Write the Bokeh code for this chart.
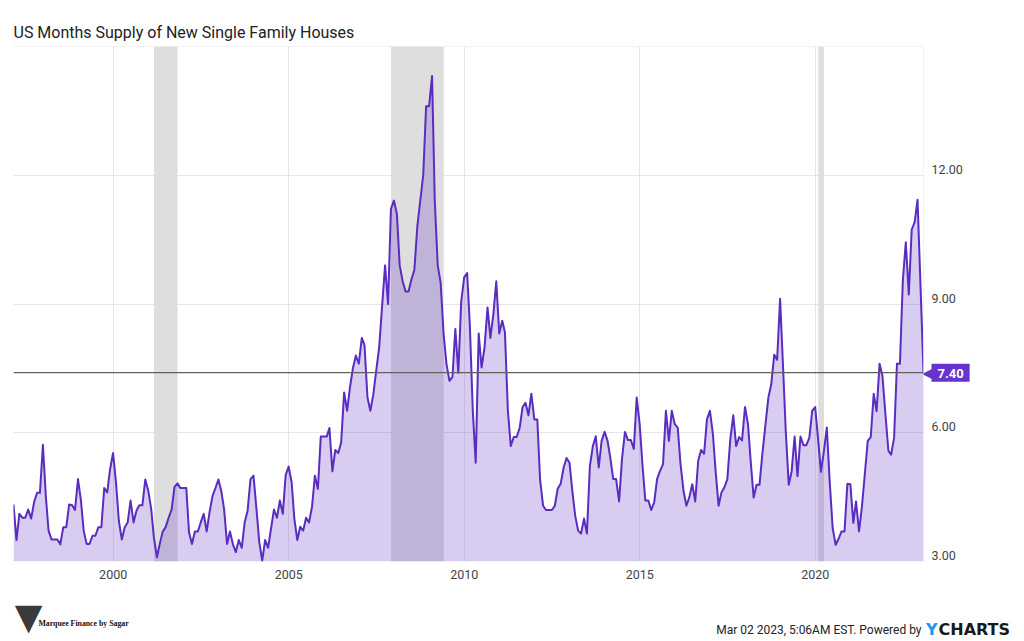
import pandas as pd
from bokeh.plotting import figure
from bokeh.layouts import column
from bokeh.models import (Range1d, FixedTicker, DatetimeTickFormatter,
                          CustomJSTickFormatter, BoxAnnotation, Span, Label)
from bokeh.embed import file_html
from bokeh.resources import INLINE

# ---------------- data ----------------
first_month = "1997-02-01"          # monthly, plotted at month end
values = [
    4.33, 3.50, 4.11, 4.02, 4.02, 4.21, 4.00, 4.38, 4.60, 4.60,
    5.72, 4.50, 3.72, 3.51, 3.51, 3.51, 3.40, 3.80, 3.80, 4.33,
    4.31, 4.20, 4.92, 4.42, 3.72, 3.41, 3.41, 3.60, 3.60, 3.80,
    3.80, 4.71, 4.61, 5.15, 5.53, 4.83, 3.95, 3.51, 3.80, 3.91,
    4.42, 3.91, 4.19, 4.31, 4.31, 4.91, 4.65, 4.22, 3.55, 3.10,
    3.41, 3.70, 3.80, 4.02, 4.21, 4.74, 4.82, 4.71, 4.71, 4.71,
    3.68, 3.41, 3.70, 3.70, 3.91, 4.11, 3.70, 4.15, 4.53, 4.71,
    4.91, 4.63, 4.22, 3.41, 3.70, 3.40, 3.22, 3.50, 3.32, 3.91,
    4.19, 4.92, 5.00, 4.22, 3.45, 3.02, 3.50, 3.32, 3.76, 4.21,
    4.02, 4.42, 4.11, 5.02, 5.21, 4.84, 4.00, 3.50, 3.81, 3.72,
    4.02, 3.91, 4.28, 5.00, 4.69, 5.91, 5.91, 5.91, 6.11, 5.10,
    5.60, 5.53, 5.77, 6.94, 6.51, 7.06, 7.51, 7.80, 7.61, 8.21,
    8.04, 6.82, 6.51, 6.90, 7.45, 8.00, 8.98, 9.90, 9.00, 11.22,
    11.41, 11.10, 9.90, 9.53, 9.29, 9.29, 9.57, 9.80, 10.82, 11.41,
    12.00, 13.61, 13.61, 14.31, 11.41, 9.90, 9.50, 8.30, 7.60, 7.21,
    7.30, 8.42, 7.40, 9.05, 9.62, 9.72, 8.50, 6.50, 5.30, 8.31,
    7.52, 7.99, 8.92, 8.21, 8.77, 9.53, 8.31, 8.61, 8.34, 6.51,
    5.69, 5.90, 5.90, 6.11, 6.60, 6.70, 6.41, 6.91, 6.31, 6.31,
    4.90, 4.30, 4.20, 4.20, 4.20, 4.30, 4.70, 4.81, 5.19, 5.41,
    5.30, 4.61, 4.07, 3.72, 3.65, 4.00, 3.65, 5.23, 5.69, 5.92,
    5.19, 5.81, 6.02, 5.81, 5.42, 4.92, 4.92, 4.40, 5.39, 6.02,
    5.83, 5.83, 5.62, 6.82, 6.20, 5.19, 4.42, 4.42, 4.20, 4.38,
    4.92, 5.11, 5.27, 6.51, 5.81, 6.51, 6.20, 6.12, 5.27, 4.65,
    4.30, 4.50, 4.80, 4.40, 5.35, 5.60, 5.51, 6.31, 6.51, 5.97,
    5.11, 4.30, 4.61, 4.73, 4.92, 5.85, 6.41, 5.69, 5.90, 5.82,
    6.60, 6.20, 5.34, 4.49, 4.79, 4.79, 5.52, 6.18, 6.82, 7.13,
    7.82, 7.70, 9.12, 7.52, 6.04, 4.79, 5.10, 5.91, 4.99, 5.91,
    5.71, 5.71, 5.88, 6.51, 6.60, 5.84, 5.09, 5.57, 6.12, 4.83,
    3.78, 3.39, 3.53, 3.70, 3.70, 4.81, 4.80, 3.90, 4.40, 3.70,
    4.27, 5.05, 5.81, 5.90, 6.91, 6.50, 7.61, 7.32, 6.43, 5.58,
    5.49, 5.88, 7.61, 7.61, 9.55, 10.44, 9.22, 10.73, 10.91, 11.43,
    9.42, 7.40,
]
recession_start = ["2001-03-01", "2007-12-01", "2020-02-01"]
recession_end = ["2001-11-01", "2009-06-01", "2020-04-01"]
tick_years = [2000, 2005, 2010, 2015, 2020]
y_ticks = [3, 6, 9, 12]
y_min, y_max = 3.0, 15.0

title_text = "US Months Supply of New Single Family Houses"
footer_text = "Mar 02 2023, 5:06AM EST. Powered by"
brand_first = "Y"
brand_rest = "CHARTS"
logo_text = "Marquee Finance by Sagar"
logo_mark = "\u25BC"
tag_arrow = "\u25C0"

# ---------------- helpers ----------------
EPOCH = pd.Timestamp("1970-01-01")


def ms(ts):
    return (pd.Timestamp(ts) - EPOCH) / pd.Timedelta(milliseconds=1)


dates = pd.date_range(first_month, periods=len(values), freq="MS") + pd.offsets.MonthEnd(0)
x_ms = [ms(d) for d in dates]
x0, x1 = x_ms[0], x_ms[-1]

LINE = "#5a2cc0"
BOX = "#6634cc"
GRID = "#e6e6e6"
FONT = "Roboto"

W = 1024
MAIN_H = 592
FOOT_H = 641 - MAIN_H
LEFT_B, RIGHT_B = 13, 101

p = figure(
    x_axis_type="datetime", y_axis_location="right",
    width=W, height=MAIN_H,
    min_border_left=LEFT_B, min_border_right=RIGHT_B, min_border_top=46, min_border_bottom=31,
    x_range=Range1d(x0, x1), y_range=Range1d(y_min, y_max),
    toolbar_location=None, output_backend="svg",
    background_fill_color="white", border_fill_color="white",
)
p.outline_line_color = None

# grid
year_ticks = [ms(f"{y}-01-01") for y in tick_years]
p.xgrid.ticker = FixedTicker(ticks=year_ticks)
p.ygrid.ticker = FixedTicker(ticks=y_ticks)
for g in (p.xgrid, p.ygrid):
    g.grid_line_color = GRID
    g.grid_line_width = 1

# recession bands
for s, e in zip(recession_start, recession_end):
    p.add_layout(BoxAnnotation(left=ms(s), right=ms(e), fill_color="#dedede",
                               fill_alpha=1.0, line_color=None, level="underlay"))

# frame top/right edges
p.add_layout(Span(location=y_max, dimension="width", line_color=GRID, line_width=1))
p.add_layout(Span(location=x1, dimension="height", line_color=GRID, line_width=1))

# area + line
p.varea(x=x_ms, y1=y_min, y2=values, fill_color=LINE, fill_alpha=0.24)
p.line(x=x_ms, y=values, line_color=LINE, line_width=2, line_join="round")

# last value line
last = values[-1]
p.add_layout(Span(location=last, dimension="width", line_color="#616161", line_width=1.2))

# axes
xa = p.xaxis[0]
xa.ticker = FixedTicker(ticks=year_ticks)
xa.formatter = DatetimeTickFormatter(years="%Y", months="%Y", days="%Y", hours="%Y")
ya = p.yaxis[0]
label_shift = 6.0 / (515.0 / (y_max - y_min))
ya.ticker = FixedTicker(ticks=[t + label_shift for t in y_ticks])
ya.formatter = CustomJSTickFormatter(args=dict(off=label_shift),
                                     code="return (tick - off).toFixed(2);")
for ax in (xa, ya):
    ax.axis_line_color = None
    ax.major_tick_line_color = None
    ax.minor_tick_line_color = None
    ax.major_tick_out = 0
    ax.major_tick_in = 0
    ax.minor_tick_out = 0
    ax.major_label_text_font = FONT
    ax.major_label_text_font_size = "12.5px"
    ax.major_label_text_color = "#444444"
    ax.major_label_standoff = 8

# last value tag (side panels: not clipped to the frame)
p.add_layout(Label(x=x1, y=last, x_offset=8, text=f"{last:.2f}", text_align="left",
                   text_baseline="middle", text_font=FONT, text_font_size="13px",
                   text_font_style="bold", text_color="white",
                   background_fill_color=BOX,
                   padding=dict(left=6, right=6, top=5, bottom=4)), "right")
p.add_layout(Label(x=x1, y=last, x_offset=10, text=tag_arrow, text_align="right",
                   text_baseline="middle", text_font="DejaVu Sans",
                   text_font_size="15px", text_color=BOX), "above")

# title
p.add_layout(Label(x=x0, y=y_max, y_offset=14, text=title_text, text_align="left",
                   text_baseline="alphabetic", text_font=FONT, text_font_size="16px",
                   text_color="#222222"), "above")

# ---------------- footer strip ----------------
# its frame is aligned with the main frame (page x 13..923), so the x range is in page pixels
f = figure(width=W, height=FOOT_H,
           x_range=Range1d(LEFT_B, W - RIGHT_B), y_range=Range1d(0, FOOT_H),
           x_axis_location=None, y_axis_location=None, toolbar_location=None,
           output_backend="svg", min_border_left=LEFT_B, min_border_right=RIGHT_B,
           min_border_top=0, min_border_bottom=0,
           background_fill_color="white", border_fill_color="white")
f.outline_line_color = None
f.grid.grid_line_color = None

base_y = FOOT_H - (629 - MAIN_H)
f.add_layout(Label(x=921, y=base_y, text=footer_text, text_align="right",
                   text_baseline="alphabetic", text_font=FONT, text_font_size="12px",
                   text_color="#222222"))
f.add_layout(Label(x=937, y=base_y, text=brand_first, text_align="right",
                   text_baseline="alphabetic", text_font="DejaVu Sans",
                   text_font_size="16px", text_font_style="bold", text_color="#2196f3"),
             "right")
f.add_layout(Label(x=938, y=base_y, text=brand_rest, text_align="left",
                   text_baseline="alphabetic", text_font="DejaVu Sans",
                   text_font_size="16px", text_font_style="bold", text_color="#1a1a1a"),
             "right")
f.add_layout(Label(x=28, y=FOOT_H - (616 - MAIN_H), text=logo_mark, text_align="center",
                   text_baseline="middle", text_font="DejaVu Sans",
                   text_font_size="36px", text_color="#3a3a3a"))
f.add_layout(Label(x=38, y=FOOT_H - (623 - MAIN_H), text=logo_text, text_align="left",
                   text_baseline="alphabetic", text_font="Liberation Serif",
                   text_font_size="7.8px", text_font_style="bold", text_color="#111111"))

layout = column(p, f, spacing=0)
open("out.html", "w").write(file_html(layout, INLINE))
